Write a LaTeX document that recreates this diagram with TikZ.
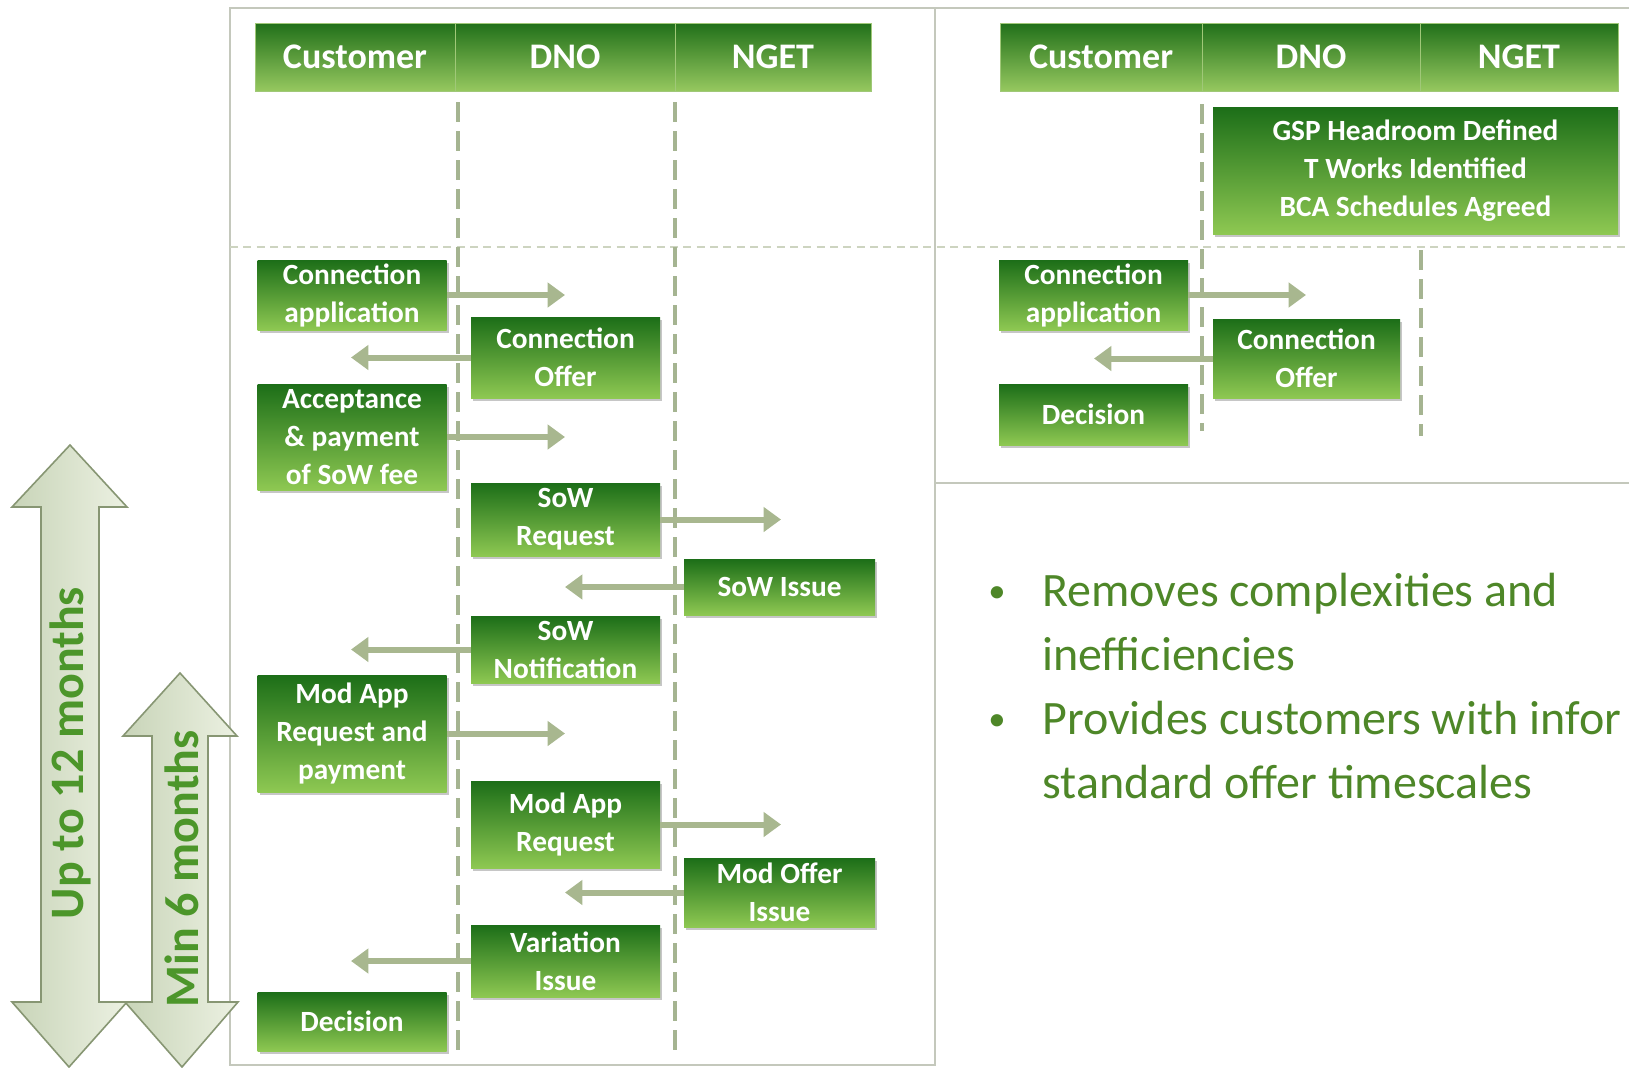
\documentclass[tikz,border=0pt]{standalone}
\usepackage{fontspec}
\setmainfont{Carlito}
\usetikzlibrary{arrows.meta,shadows}

\begin{document}
\begin{tikzpicture}[x=0.75pt,y=0.75pt,yscale=-1,xscale=1,
    lanehead/.style={top color={rgb,255:red,33;green,112;blue,26}, bottom color={rgb,255:red,150;green,200;blue,95}, draw={rgb,255:red,160;green,200;blue,120}, line width=0.6pt, text=white, font=\fontsize{27}{32}\selectfont\bfseries, inner sep=0pt, minimum height=51pt},
    stepbox/.style={top color={rgb,255:red,28;green,110;blue,24}, bottom color={rgb,255:red,142;green,200;blue,82}, text=white, font=\fontsize{22}{28.5}\selectfont\bfseries, align=center, inner sep=0pt, minimum width=141.75pt, drop shadow={shadow xshift=1.5pt, shadow yshift=-2pt, opacity=0.45}},
    flow/.style={draw={rgb,255:red,168;green,183;blue,143}, line width=4.5pt, -{Triangle[width=18pt,length=13pt]}},
    lifeline/.style={draw={rgb,255:red,165;green,180;blue,145}, line width=3pt, dash pattern={on 15pt off 6.75pt}},
    divider/.style={draw={rgb,255:red,205;green,212;blue,192}, line width=1.5pt, dash pattern={on 6pt off 4pt}},
    panel/.style={draw={rgb,255:red,196;green,200;blue,188}, line width=1.5pt},
    spanarrow/.style={left color={rgb,255:red,200;green,212;blue,184}, right color={rgb,255:red,236;green,241;blue,226}, draw={rgb,255:red,135;green,150;blue,115}, line width=1.2pt, line join=miter},
    spanlabel/.style={text={rgb,255:red,76;green,150;blue,42}, font=\fontsize{36}{40}\selectfont\bfseries, rotate=90, inner sep=0pt},
    bullettext/.style={text={rgb,255:red,78;green,135;blue,40}, font=\fontsize{36}{44}\selectfont, inner sep=0pt, anchor=base west}
]
\useasboundingbox (0,0) rectangle (1629,1068);

%Shape: Rectangle
\draw[panel] (230,8) rectangle (935,1065);
%Straight Lines
\draw[panel] (1629,8) -- (935,8) -- (935,483) -- (1629,483);
%Straight Lines
\draw[divider] (230,247) -- (1629,247);

%Straight Lines
\draw[lifeline] (458,102) -- (458,1050);
\draw[lifeline] (675,102) -- (675,1050);
\draw[lifeline] (1202,104) -- (1202,431);
\draw[lifeline] (1421,250) -- (1421,436);

% Text Node
\node (hCust) [lanehead, minimum width=150pt] at (355,57) {Customer};
\node (hDNO) [lanehead, minimum width=165pt] at (565,57) {DNO};
\node (hNGET) [lanehead, minimum width=147pt] at (773,57) {NGET};
% Text Node
\node (hCust2) [lanehead, minimum width=151.5pt] at (1101,57) {Customer};
\node (hDNO2) [lanehead, minimum width=163.5pt] at (1311,57) {DNO};
\node (hNGET2) [lanehead, minimum width=148.5pt] at (1519,57) {NGET};

% Text Node
\node (connApp) [stepbox, minimum height=52.5pt] at (352,295) {Connection\\application};
\node (connOffer) [stepbox, minimum height=60.75pt] at (565.5,357.5) {Connection\\Offer};
\node (accept) [stepbox, minimum height=79.5pt] at (352,437) {Acceptance\\\& payment\\of SoW fee};
\node (sowReq) [stepbox, minimum height=54.75pt] at (565.5,519.5) {SoW\\Request};
\node (sowIssue) [stepbox, minimum height=42pt, minimum width=143.25pt] at (779.5,587) {SoW Issue};
\node (sowNote) [stepbox, minimum height=50.25pt] at (565.5,649.5) {SoW\\Notification};
\node (modAppPay) [stepbox, minimum height=87.75pt] at (352,733.5) {Mod App\\Request and\\payment};
\node (modAppReq) [stepbox, minimum height=65.25pt] at (565.5,824.5) {Mod App\\Request};
\node (modOffer) [stepbox, minimum height=51.75pt, minimum width=143.25pt] at (779.5,892.5) {Mod Offer\\Issue};
\node (variation) [stepbox, minimum height=54pt] at (565.5,961) {Variation\\Issue};
\node (decision) [stepbox, minimum height=44.25pt] at (352,1021.5) {Decision};

% Text Node
\node (gsp) [stepbox, minimum height=95.25pt, minimum width=303.75pt] at (1415.5,170.5) {GSP Headroom Defined\\T Works Identified\\BCA Schedules Agreed};
\node (connApp2) [stepbox, minimum height=52.5pt] at (1093.5,295) {Connection\\application};
\node (connOffer2) [stepbox, minimum height=59.25pt, minimum width=140.25pt] at (1306.5,358.5) {Connection\\Offer};
\node (decision2) [stepbox, minimum height=45.75pt] at (1093.5,414.5) {Decision};

% arrow tips
\coordinate (toCust) at (351,0);
\coordinate (toDNO) at (565,0);
\coordinate (toNGET) at (781,0);
\coordinate (toCust2) at (1094,0);
\coordinate (toDNO2) at (1306,0);

%Straight Lines
\foreach \from/\to in {connApp/toDNO, accept/toDNO, modAppPay/toDNO, sowReq/toNGET, modAppReq/toNGET, connApp2/toDNO2}
    \draw[flow] (\from.east) -- (\from.east -| \to);
\foreach \from/\to in {connOffer/toCust, sowNote/toCust, variation/toCust, sowIssue/toDNO, modOffer/toDNO, connOffer2/toCust2}
    \draw[flow] (\from.west) -- (\from.west -| \to);

%Shape: Up Down Arrow
\draw[spanarrow] (70,445) -- (127,507) -- (99,507) -- (99,1002) -- (127,1002) -- (69,1067) -- (12,1002) -- (41,1002) -- (41,507) -- (12,507) -- cycle;
%Shape: Up Down Arrow
\draw[spanarrow] (180,673) -- (237,736) -- (208,736) -- (208,1002) -- (238,1002) -- (182,1067) -- (125,1002) -- (152,1002) -- (152,736) -- (123,736) -- cycle;

% Text Node
\node (longSpan) [spanlabel] at (70,753) {Up to 12 months};
\node (minSpan) [spanlabel] at (182,869) {Min 6 months};

% Text Node
\node (dotA) [bullettext, font=\fontsize{26}{30}\selectfont] at (988,602) {•};
\node (lineA1) [bullettext] at (1042,606) {Removes complexities and};
\node (lineA2) [bullettext] at (1042,670) {inefficiencies};
\node (dotB) [bullettext, font=\fontsize{26}{30}\selectfont] at (988,730) {•};
\node (lineB1) [bullettext] at (1042,734) {Provides customers with infor};
\node (lineB2) [bullettext] at (1042,798) {standard offer timescales};

\end{tikzpicture}
\end{document}
